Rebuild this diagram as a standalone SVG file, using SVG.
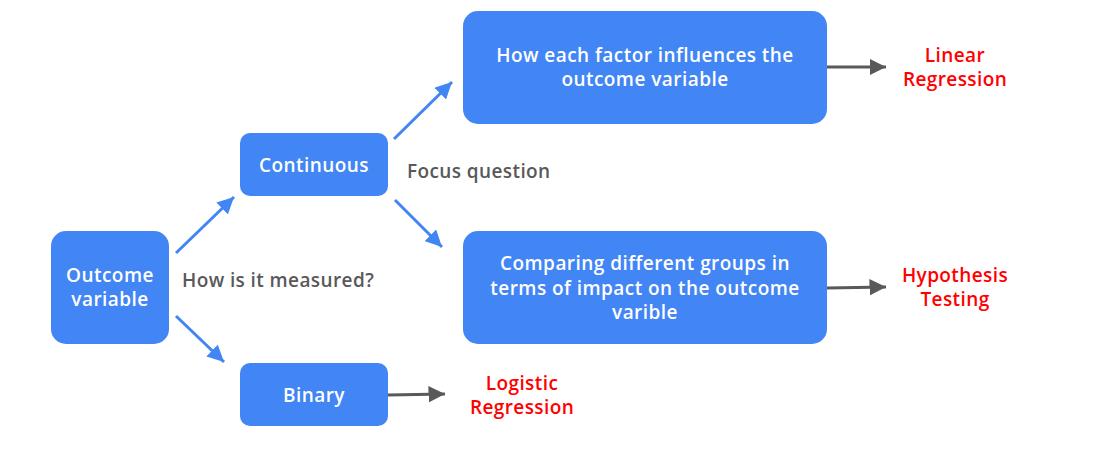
<svg xmlns="http://www.w3.org/2000/svg" width="1096" height="468" viewBox="0 0 1096 468">
<style>
.box{fill:#4285F4;}
.wt{fill:#ffffff;font-family:"Open Sans","Liberation Sans",sans-serif;font-weight:600;font-size:19px;letter-spacing:0.45px;text-anchor:middle;}
.gt{fill:#595959;font-family:"Open Sans","Liberation Sans",sans-serif;font-weight:600;font-size:19px;letter-spacing:0.4px;}
.rt{fill:#FF0000;font-family:"Open Sans","Liberation Sans",sans-serif;font-weight:600;font-size:19px;letter-spacing:0.4px;text-anchor:middle;}
.bl{stroke:#4285F4;stroke-width:3;fill:none;marker-end:url(#ab);}
.gl{stroke:#595959;stroke-width:3;fill:none;marker-end:url(#ag);}
</style>
<defs>
<marker id="ab" viewBox="0 0 10 10" refX="10" refY="5" markerWidth="5.5" markerHeight="5.5" orient="auto" markerUnits="strokeWidth">
<path d="M0,0 L10,5 L0,10 z" fill="#4285F4"/>
</marker>
<marker id="ag" viewBox="0 0 10 10" refX="10" refY="5" markerWidth="5.5" markerHeight="5.5" orient="auto" markerUnits="strokeWidth">
<path d="M0,0 L10,5 L0,10 z" fill="#595959"/>
</marker>
</defs>
<rect width="1096" height="468" fill="#ffffff"/>
<g id="connectors">
<line class="bl" x1="176" y1="253" x2="234" y2="197"/>
<line class="bl" x1="176" y1="316" x2="224" y2="362"/>
<line class="bl" x1="394" y1="139" x2="452" y2="82"/>
<line class="bl" x1="395" y1="200" x2="442" y2="247"/>
<line class="gl" x1="827" y1="67" x2="886" y2="67"/>
<line class="gl" x1="827" y1="288" x2="886" y2="287"/>
<line class="gl" x1="388" y1="395" x2="445" y2="394"/>
</g>
<g id="outcome">
<rect class="box" x="51" y="231" width="118" height="113" rx="15"/>
<text class="wt" x="110" y="281.5">Outcome</text>
<text class="wt" x="110" y="306">variable</text>
</g>
<g id="continuous">
<rect class="box" x="240" y="133" width="148" height="63" rx="10"/>
<text class="wt" x="314" y="172">Continuous</text>
</g>
<g id="binary">
<rect class="box" x="240" y="363" width="148" height="63" rx="10"/>
<text class="wt" x="314" y="402">Binary</text>
</g>
<g id="factor">
<rect class="box" x="463" y="11" width="364" height="113" rx="15"/>
<text class="wt" x="645" y="61.5">How each factor influences the</text>
<text class="wt" x="645" y="86">outcome variable</text>
</g>
<g id="compare">
<rect class="box" x="463" y="231" width="364" height="113" rx="15"/>
<text class="wt" x="645" y="270">Comparing different groups in</text>
<text class="wt" x="645" y="294.5">terms of impact on the outcome</text>
<text class="wt" x="645" y="319">varible</text>
</g>
<g id="labels">
<text class="gt" x="182" y="287">How is it measured?</text>
<text class="gt" x="407" y="178">Focus question</text>
</g>
<g id="linear">
<text class="rt" x="955" y="61.5">Linear</text>
<text class="rt" x="955" y="86">Regression</text>
</g>
<g id="hypothesis">
<text class="rt" x="955" y="281.5">Hypothesis</text>
<text class="rt" x="955" y="306">Testing</text>
</g>
<g id="logistic">
<text class="rt" x="522" y="389.5">Logistic</text>
<text class="rt" x="522" y="414">Regression</text>
</g>
</svg>
